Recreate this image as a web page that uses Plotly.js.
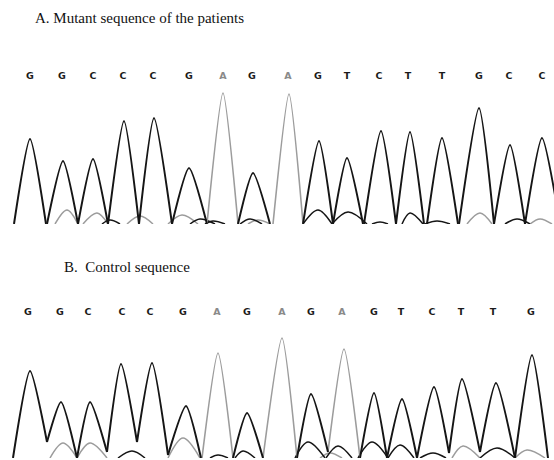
<!DOCTYPE html>
<html>
<head>
<meta charset="utf-8">
<script src="https://cdn.plot.ly/plotly-3.0.1.min.js"></script>
<style>html,body{margin:0;padding:0;background:#fff;}#chart{width:554px;height:460px;}</style>
</head>
<body>
<div id="chart"></div>
<script>
// ---------- Panel A: mutant sequence ----------
const basesA      = ["G","G","C","C","C","G","A","G","A","G","T","C","T","T","G","C","C"];
const letterXA    = [30,62,93,123,153,189,223,252,288,318,347,379,408,442,479,509,542];
const peakXA      = [30,63,93,124,154,189,223,253,289,319,347,381,410,442,479,510,542];
const peakHA      = [85,63,65,103,106,56,131,51,130,83,66,93,92,86,116,79,86];
const footLA      = [14,47,78,108,139,172,207,238,273,303,333,364,396,427,459,494,525];
const footRA      = [46,78,108,139,172,207,238,270,303,333,363,396,424,458,494,525,560];
const footLHA     = [0,0,0,0,0,0,0,0,0,0,0,0,0,0,0,0,0];
const footRHA     = [0,0,0,0,0,0,0,0,0,0,0,0,0,0,0,0,0];
// minor (secondary) signal humps near the baseline
const minorXA     = [67,97,110,140,182,200,213,250,258,318,348,380,410,437,480,517,540];
const minorHA     = [14,11,4,8,9,5,3,5,4,14,12,2,11,3,11,5,5];
const minorLA     = [55,83,102,127,168,190,205,240,248,303,332,372,402,425,467,505,530];
const minorRA     = [78,108,120,153,198,215,225,262,270,332,367,388,423,450,492,530,552];
const minorCA     = ["g","g","k","g","g","k","k","k","g","k","k","k","k","k","g","k","g"];

// ---------- Panel B: control sequence ----------
const basesB      = ["G","G","C","C","C","G","A","G","A","G","A","G","T","C","T","T","G"];
const letterXB    = [28,60,88,122,150,183,217,247,282,311,342,374,401,432,461,493,531];
const peakXB      = [30,61,90,121,152,186,218,247,282,311,344,374,402,434,462,496,532];
const peakHB      = [87,56,56,94,95,52,105,45,120,64,109,65,59,71,79,75,103];
const footLB      = [13,47,77,107,137,168,202,233,263,297,328,360,387,417,449,480,515];
const footRB      = [47,77,107,137,168,201,233,263,297,328,360,387,417,449,480,515,548];
const footLHB     = [0,16,0,6,16,3,0,0,0,0,6,0,0,0,5,6,0];
const footRHB     = [16,0,6,16,3,0,0,0,0,6,0,0,0,5,6,0,0];
const minorXB     = [63,90,132,183,218,243,308,330,338,372,400,433,463,497,527];
const minorHB     = [15,15,7,20,3,7,16,5,12,16,13,5,12,10,8];
const minorLB     = [50,77,118,168,210,235,295,320,326,358,388,420,452,480,515];
const minorRB     = [77,107,145,200,228,255,325,342,352,388,414,446,480,515,545];
const minorCB     = ["g","g","k","g","k","k","k","g","k","k","k","k","g","k","g"];

const titleA = "A. Mutant sequence of the patients";
const titleB = "B.  Control sequence";

const DARK = "#151515", GRAY = "#9c9c9c";

function peakTrace(bases, px, ph, fl, fr, flh, frh, wantA, xa, ya) {
  const x = [], y = [];
  for (let i = 0; i < bases.length; i++) {
    if ((bases[i] === "A") !== wantA) continue;
    x.push(fl[i], px[i], fr[i], null);
    y.push(flh[i], ph[i], frh[i], null);
  }
  return {x, y, xaxis: xa, yaxis: ya, mode: "lines", hoverinfo: "skip",
    line: {color: wantA ? GRAY : DARK, width: wantA ? 1.6 : 2, shape: "spline", smoothing: 0.6},
    connectgaps: false, showlegend: false};
}
function minorTrace(mx, mh, ml, mr, mc, col, xa, ya) {
  const x = [], y = [];
  for (let i = 0; i < mx.length; i++) {
    if (mc[i] !== col) continue;
    x.push(ml[i], mx[i], mr[i], null);
    y.push(0, mh[i], 0, null);
  }
  return {x, y, xaxis: xa, yaxis: ya, mode: "lines", hoverinfo: "skip",
    line: {color: col === "g" ? GRAY : DARK, width: 1.5, shape: "spline", smoothing: 1},
    connectgaps: false, showlegend: false};
}
function letterTrace(bases, lx, yv, xa, ya) {
  return {x: lx, y: lx.map(() => yv), text: bases, mode: "text", xaxis: xa, yaxis: ya,
    hoverinfo: "skip", showlegend: false,
    textfont: {family: "DejaVu Sans", size: 9.5, weight: "bold",
      color: bases.map(b => b === "A" ? "#8a8a8a" : "#1a1a1a")}};
}

const data = [
  minorTrace(minorXA, minorHA, minorLA, minorRA, minorCA, "g", "x", "y"),
  minorTrace(minorXA, minorHA, minorLA, minorRA, minorCA, "k", "x", "y"),
  peakTrace(basesA, peakXA, peakHA, footLA, footRA, footLHA, footRHA, true, "x", "y"),
  peakTrace(basesA, peakXA, peakHA, footLA, footRA, footLHA, footRHA, false, "x", "y"),
  letterTrace(basesA, letterXA, 147, "x", "y"),
  minorTrace(minorXB, minorHB, minorLB, minorRB, minorCB, "g", "x2", "y2"),
  minorTrace(minorXB, minorHB, minorLB, minorRB, minorCB, "k", "x2", "y2"),
  peakTrace(basesB, peakXB, peakHB, footLB, footRB, footLHB, footRHB, true, "x2", "y2"),
  peakTrace(basesB, peakXB, peakHB, footLB, footRB, footLHB, footRHB, false, "x2", "y2"),
  letterTrace(basesB, letterXB, 145, "x2", "y2")
];

const hidden = {visible: false, showgrid: false, zeroline: false, fixedrange: true};
const layout = {
  width: 554, height: 460,
  margin: {l: 0, r: 0, t: 0, b: 0, pad: 0},
  paper_bgcolor: "#fff", plot_bgcolor: "#fff",
  showlegend: false,
  xaxis:  Object.assign({}, hidden, {range: [0, 554], domain: [0, 1], anchor: "y"}),
  yaxis:  Object.assign({}, hidden, {range: [0, 160], domain: [0.51304, 0.86087], anchor: "x"}),
  xaxis2: Object.assign({}, hidden, {range: [0, 554], domain: [0, 1], anchor: "y2"}),
  yaxis2: Object.assign({}, hidden, {range: [0, 160], domain: [0.004348, 0.352174], anchor: "x2"}),
  annotations: [
    {text: titleA, xref: "paper", yref: "paper", x: 33/554, y: 1 - 18/460,
     xanchor: "left", yanchor: "middle", showarrow: false,
     font: {family: "Liberation Serif", size: 15, color: "#111"}},
    {text: titleB, xref: "paper", yref: "paper", x: 62/554, y: 1 - 267/460,
     xanchor: "left", yanchor: "middle", showarrow: false,
     font: {family: "Liberation Serif", size: 15, color: "#111"}}
  ]
};
Plotly.newPlot("chart", data, layout, {staticPlot: true, displayModeBar: false});
</script>
</body>
</html>
